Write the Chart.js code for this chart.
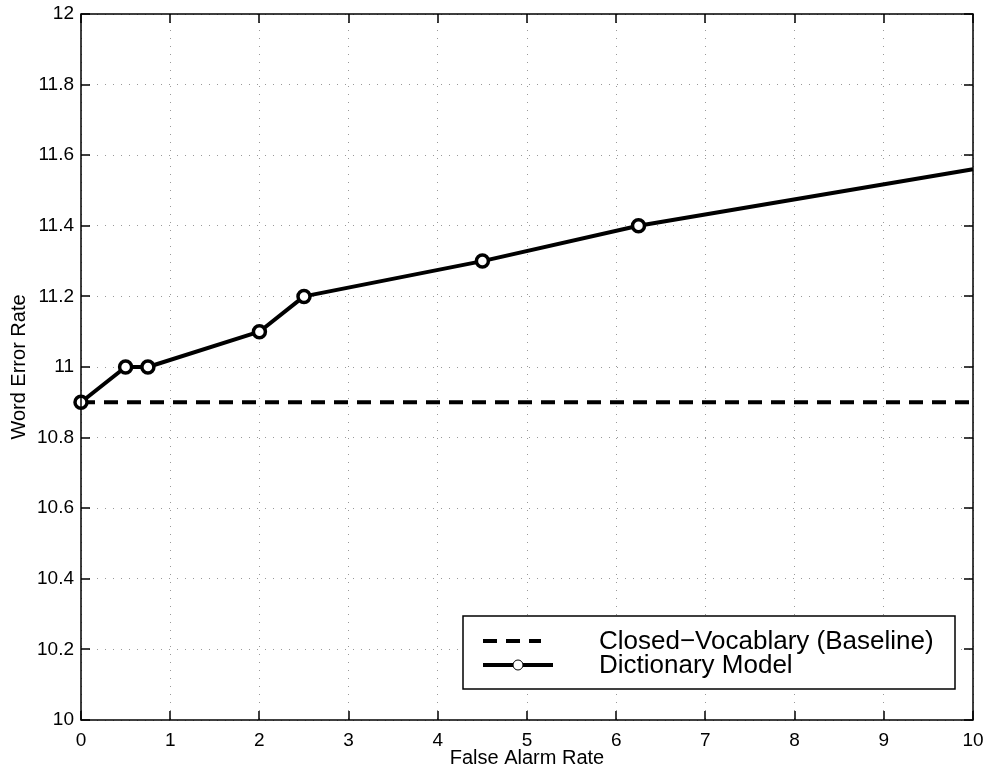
<!DOCTYPE html>
<html>
<head>
<meta charset="utf-8">
<script src="https://cdn.jsdelivr.net/npm/chart.js@4.4.1/dist/chart.umd.min.js"></script>
<style>
  html, body { margin: 0; padding: 0; background: #fff; }
  canvas { display: block; }
</style>
</head>
<body>
<canvas id="chart" width="987" height="771"></canvas>
<script>
// values
const falseAlarm = [0, 0.5, 0.75, 2, 2.5, 4.5, 6.25, 10];
const dictionaryWer = [10.9, 11.0, 11.0, 11.1, 11.2, 11.3, 11.4, 11.56];
const dictionaryMarks = [6, 6, 6, 6, 6, 6, 6, 0];   // last point is only where the line leaves the box
const baselineX = [0, 10];
const baselineWer = [10.9, 10.9];
const xTicks = [0, 1, 2, 3, 4, 5, 6, 7, 8, 9, 10];
const yTicks = [10, 10.2, 10.4, 10.6, 10.8, 11, 11.2, 11.4, 11.6, 11.8, 12];

const FONT = 'Liberation Sans, Arial, Helvetica, sans-serif';

// box round the plot with inward ticks, like matlab
const frame = {
    id: 'frame',
    afterDatasetsDraw(chart) {
        const { ctx, chartArea: a, scales } = chart;
        const len = 9;
        ctx.save();
        ctx.strokeStyle = '#000';
        ctx.lineWidth = 1.5;
        ctx.beginPath();
        scales.x.ticks.forEach(t => {
            const px = Math.round(scales.x.getPixelForValue(t.value));
            ctx.moveTo(px, a.bottom); ctx.lineTo(px, a.bottom - len);
            ctx.moveTo(px, a.top); ctx.lineTo(px, a.top + len);
        });
        scales.y.ticks.forEach(t => {
            const py = Math.round(scales.y.getPixelForValue(t.value));
            ctx.moveTo(a.left, py); ctx.lineTo(a.left + len, py);
            ctx.moveTo(a.right, py); ctx.lineTo(a.right - len, py);
        });
        ctx.stroke();
        ctx.strokeRect(a.left, a.top, a.right - a.left, a.bottom - a.top);
        ctx.restore();
    }
};

// legend box in the lower right corner
const legendBox = {
    id: 'legendBox',
    afterDraw(chart) {
        const { ctx, chartArea: a } = chart;
        const w = 492, h = 73;
        const left = a.right - 18 - w;
        const top = a.bottom - 31 - h;
        ctx.save();
        ctx.fillStyle = '#fff';
        ctx.fillRect(left, top, w, h);
        ctx.strokeStyle = '#000';
        ctx.lineWidth = 1.5;
        ctx.strokeRect(left, top, w, h);

        ctx.font = '26px ' + FONT;
        ctx.textBaseline = 'middle';
        ctx.fillStyle = '#000';
        chart.data.datasets.forEach((ds, i) => {
            const cy = top + 25 + i * 24;
            ctx.save();
            ctx.strokeStyle = ds.borderColor;
            ctx.lineWidth = ds.borderWidth;
            ctx.setLineDash(ds.borderDash || []);
            ctx.beginPath();
            ctx.moveTo(left + 20, cy);
            ctx.lineTo(left + (ds.borderDash ? 78 : 90), cy);
            ctx.stroke();
            if (ds.legendMarker) {
                ctx.setLineDash([]);
                ctx.lineWidth = 1;
                ctx.fillStyle = '#fff';
                ctx.beginPath();
                ctx.arc(left + 55, cy, 5, 0, Math.PI * 2);
                ctx.fill();
                ctx.stroke();
            }
            ctx.restore();
            ctx.fillText(ds.label, left + 136, cy + 1);
        });
        ctx.restore();
    }
};

new Chart(document.getElementById('chart'), {
    type: 'line',
    data: {
        datasets: [{
            label: 'Closed\u2212Vocablary (Baseline)',
            data: baselineX.map((x, i) => ({ x: x, y: baselineWer[i] })),
            borderColor: '#000',
            borderWidth: 4,
            borderDash: [14, 9],
            pointRadius: 0,
            fill: false,
            clip: false,
            order: 2
        }, {
            label: 'Dictionary Model',
            data: falseAlarm.map((x, i) => ({ x: x, y: dictionaryWer[i] })),
            borderColor: '#000',
            borderWidth: 4,
            pointRadius: dictionaryMarks,
            pointBorderWidth: 3.5,
            pointBorderColor: '#000',
            pointBackgroundColor: '#fff',
            borderJoinStyle: 'round',
            legendMarker: true,
            fill: false,
            clip: false,
            order: 1
        }]
    },
    options: {
        responsive: false,
        animation: false,
        devicePixelRatio: 1,
        layout: { padding: { top: 14, right: 14, left: 0, bottom: 0 } },
        plugins: {
            legend: { display: false },
            tooltip: { enabled: false }
        },
        scales: {
            x: {
                type: 'linear',
                min: 0,
                max: 10,
                afterBuildTicks: s => { s.ticks = xTicks.map(v => ({ value: v })); },
                afterFit: s => { s.height = 51; s.paddingLeft = 0; s.paddingRight = 0; },
                grid: { color: '#999', lineWidth: 1, drawTicks: false },
                border: { display: false, dash: [1, 7] },
                ticks: { color: '#000', padding: 9, maxRotation: 0, font: { family: FONT, size: 19 } },
                title: {
                    display: true,
                    text: 'False Alarm Rate',
                    color: '#000',
                    font: { family: FONT, size: 20 },
                    padding: { top: 0, bottom: 1 }
                }
            },
            y: {
                type: 'linear',
                min: 10,
                max: 12,
                afterBuildTicks: s => { s.ticks = yTicks.map(v => ({ value: v })); },
                afterFit: s => { s.width = 81; s.paddingTop = 0; s.paddingBottom = 0; },
                grid: { color: '#999', lineWidth: 1, drawTicks: false },
                border: { display: false, dash: [1, 7] },
                ticks: {
                    color: '#000',
                    padding: 7,
                    font: { family: FONT, size: 19 },
                    callback: v => String(Number(v.toFixed(1)))
                },
                title: {
                    display: true,
                    text: 'Word Error Rate',
                    color: '#000',
                    font: { family: FONT, size: 20 },
                    padding: { top: 7, bottom: 0 }
                }
            }
        }
    },
    plugins: [frame, legendBox]
});
</script>
</body>
</html>
